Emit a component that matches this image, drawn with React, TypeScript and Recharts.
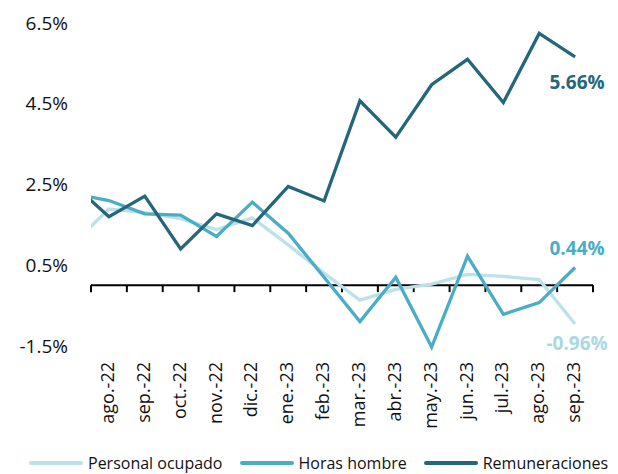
import React from 'react';
import { LineChart, Line, XAxis, YAxis, ReferenceLine, Legend } from 'recharts';

// jul.-22 lies just outside the plot (lines start at the plot edge)
const categories = ['jul.-22', 'ago.-22', 'sep.-22', 'oct.-22', 'nov.-22', 'dic.-22', 'ene.-23', 'feb.-23', 'mar.-23', 'abr.-23', 'may.-23', 'jun.-23', 'jul.-23', 'ago.-23', 'sep.-23'];
const personalOcupado = [1.03, 1.89, 1.8, 1.65, 1.38, 1.67, 1.0, 0.3, -0.37, -0.1, 0.03, 0.27, 0.22, 0.14, -0.96];
const horasHombre = [2.27, 2.1, 1.77, 1.74, 1.21, 2.06, 1.29, 0.2, -0.9, 0.2, -1.53, 0.72, -0.72, -0.43, 0.44];
const remuneraciones = [2.5, 1.7, 2.21, 0.9, 1.77, 1.48, 2.45, 2.09, 4.57, 3.67, 4.97, 5.6, 4.53, 6.24, 5.66];
const yTicks = [-1.5, 0.5, 2.5, 4.5, 6.5];
const seriesKeys = ['po', 'hh', 'rem'];
const seriesNames = ['Personal ocupado', 'Horas hombre', 'Remuneraciones'];
const seriesColors = ['#BCE1EA', '#4AADC6', '#25677A'];
const labelColors = ['#A9D8E4', '#4AADC6', '#25677A'];

const FONT = '"Open Sans", "Segoe UI", sans-serif';

const data = categories.map((c, i) => ({
  idx: i,
  cat: c,
  po: personalOcupado[i],
  hh: horasHombre[i],
  rem: remuneraciones[i],
}));

const lastIdx = categories.length - 1;
const visibleTicks = categories.map((_, i) => i).slice(1);
const boundaries = [...visibleTicks.map((i) => i - 0.5), lastIdx + 0.5];
const xDomain = [0.5, lastIdx + 0.5];

const XTick = (props: any) => {
  const { x, y, payload } = props;
  return (
    <text
      x={x}
      y={y}
      dy="0.28em"
      transform={`rotate(-90, ${x}, ${y})`}
      textAnchor="end"
      fontSize={18}
      fill="#111"
      fontFamily={FONT}
    >
      {categories[payload.value]}
    </text>
  );
};

const labelOffsets: Record<string, number> = { po: 19, hh: -19, rem: 25 };

const makeLabel = (key: string, color: string) => (props: any) => {
  const { x, y, index, value } = props;
  if (index !== lastIdx) return <g />;
  return (
    <text
      x={x + 2}
      y={y + labelOffsets[key]}
      dy="0.35em"
      textAnchor="middle"
      fontSize={19}
      fontWeight={700}
      fill={color}
      fontFamily={FONT}
    >
      {`${Number(value).toFixed(2)}%`}
    </text>
  );
};

const renderLegend = () => {
  return (
    <div
      style={{
        display: 'flex',
        alignItems: 'center',
        paddingLeft: 29,
        paddingTop: 11,
        height: 22,
        lineHeight: '22px',
        fontFamily: FONT,
        fontSize: 16,
        color: '#111',
        gap: 17,
        whiteSpace: 'nowrap',
      }}
    >
      {seriesNames.map((name, i) => (
        <div key={name} style={{ display: 'flex', alignItems: 'center', height: 22 }}>
          <span
            style={{
              display: 'inline-block',
              width: 54,
              height: 4,
              borderRadius: 2,
              background: seriesColors[i],
              marginRight: 5,
            }}
          />
          <span>{name}</span>
        </div>
      ))}
    </div>
  );
};

export default function App() {
  return (
    <div style={{ position: 'absolute', left: 0, top: 0, width: 618, height: 474, background: '#fff' }}>
      <LineChart width={618} height={474} data={data} margin={{ top: 23, right: 25, left: 0, bottom: 0 }}>
        <XAxis
          dataKey="idx"
          type="number"
          domain={xDomain}
          allowDataOverflow
          ticks={visibleTicks}
          interval={0}
          tick={<XTick />}
          tickLine={false}
          axisLine={false}
          tickSize={0}
          tickMargin={15}
          height={94}
        />
        <YAxis
          type="number"
          domain={[yTicks[0], yTicks[yTicks.length - 1]]}
          ticks={yTicks}
          interval={0}
          axisLine={false}
          tickLine={false}
          tickSize={0}
          tickMargin={23}
          width={91}
          tick={{ fontSize: 19, fill: '#111', fontFamily: FONT }}
          tickFormatter={(v: number) => `${v.toFixed(1)}%`}
        />
        <ReferenceLine y={0} stroke="#000" strokeWidth={2} />
        {boundaries.map((b) => (
          <ReferenceLine
            key={b}
            segment={[{ x: b, y: 0 }, { x: b, y: -0.17 }]}
            stroke="#000"
            strokeWidth={2}
          />
        ))}
        {seriesKeys.map((k, i) => (
          <Line
            key={k}
            type="linear"
            dataKey={k}
            name={seriesNames[i]}
            stroke={seriesColors[i]}
            strokeWidth={3.3}
            dot={false}
            activeDot={false}
            isAnimationActive={false}
            label={makeLabel(k, labelColors[i])}
          />
        ))}
        <Legend
          verticalAlign="bottom"
          content={renderLegend}
          wrapperStyle={{ left: 0, width: 618, height: 33, bottom: 0 }}
        />
      </LineChart>
    </div>
  );
}
